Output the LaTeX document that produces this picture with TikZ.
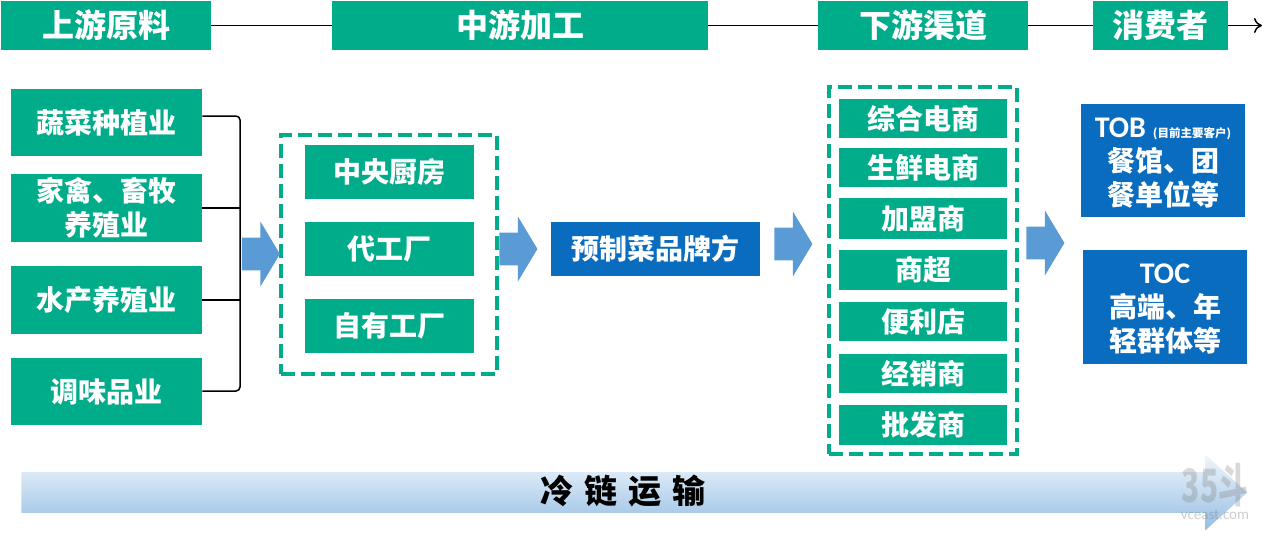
\documentclass[tikz,border=0pt]{standalone}
\usepackage{fontspec}
\setmainfont{Noto Sans CJK SC}
\newfontfamily\latinfont{Carlito}[BoldFont={Carlito Bold}]
\newfontfamily\latinbold{Carlito Bold}
\usetikzlibrary{shapes.arrows}
\usetikzlibrary{arrows.meta}
\definecolor{chaingreen}{RGB}{0,172,138}
\definecolor{chainblue}{RGB}{10,108,190}
\definecolor{arrowblue}{RGB}{91,155,213}
\newcommand{\zh}[2]{\fontsize{#1}{#2}\selectfont\bfseries}
\newcommand{\latintitle}[1]{\rule{0pt}{24pt}{\latinbold\fontsize{30}{28}\selectfont #1}}
\begin{document}
\begin{tikzpicture}
		[x=1pt, y=-1pt, thick,
		box/.style = {inner sep=0pt, text=white, align=center, font=\zh{28}{34}},
		greenbox/.style = {box, fill=chaingreen},
		bluebox/.style = {box, fill=chainblue},
		headbox/.style = {greenbox, minimum height=49pt, font=\zh{32}{36}},
		dashbox/.style = {draw=chaingreen, dashed, dash pattern=on 14pt off 6pt, line width=4pt, inner sep=0pt},
		step arrow/.style = {shape=single arrow, fill=arrowblue, inner xsep=0pt, inner ysep=16pt, minimum height=38pt, minimum width=64pt,
			single arrow head extend=16pt, single arrow tip angle=118},
		link/.style = {draw=black, line width=1.5pt}]
	\useasboundingbox (0,0) rectangle (1262,533);
	% top row
	\node[headbox, minimum width=210pt] (upstream) at (106,25.5) {上游原料};
	\node[headbox, minimum width=376pt] (midstream) at (520,25.5) {中游加工};
	\node[headbox, minimum width=210pt] (downstream) at (923,25.5) {下游渠道};
	\node[headbox, minimum width=135pt] (consumer) at (1160.5,25.5) {消费者};
	\coordinate (end) at (1262,25.5);
	\draw[link] (upstream) -- (midstream);
	\draw[link] (midstream) -- (downstream);
	\draw[link] (downstream) -- (consumer);
	\draw[link, -{To[length=8pt,width=15pt]}] (consumer) -- (end);
	% raw materials
	\node[greenbox, minimum width=191pt, minimum height=67pt] (veg) at (106.5,122.5) {蔬菜种植业};
	\node[greenbox, minimum width=191pt, minimum height=68pt] (poultry) at (106.5,208) {家禽、畜牧\\养殖业};
	\node[greenbox, minimum width=191pt, minimum height=68pt] (aqua) at (106.5,300) {水产养殖业};
	\node[greenbox, minimum width=191pt, minimum height=67pt] (sauce) at (106.5,391.5) {调味品业};
	\coordinate (bracket top) at (240,116);
	\coordinate (bracket bottom) at (240,391);
	\draw[link, rounded corners=4pt] (veg.east |- bracket top) -- (bracket top) -- (bracket bottom) -- (sauce.east |- bracket bottom);
	\draw[link] (poultry.east) -- (poultry.east -| bracket top);
	\draw[link] (aqua.east) -- (aqua.east -| bracket top);
	% processing
	\node[dashbox, minimum width=216pt, minimum height=239pt] (factories) at (388.5,254) {};
	\node[greenbox, minimum width=169pt, minimum height=54pt] (kitchen) at (389.5,172) {中央厨房};
	\node[greenbox, minimum width=169pt, minimum height=54pt] (oem) at (389.5,249) {代工厂};
	\node[greenbox, minimum width=169pt, minimum height=54pt] (own) at (389.5,326) {自有工厂};
	\node[bluebox, minimum width=209pt, minimum height=54pt] (brand) at (655.5,249) {预制菜品牌方};
	% channels
	\node[dashbox, minimum width=188pt, minimum height=367pt] (channels) at (922.5,270.5) {};
	\node[greenbox, minimum width=168pt, minimum height=39pt] (ecom) at (923,118.5) {综合电商};
	\node[greenbox, minimum width=168pt, minimum height=39pt] (fresh) at (923,167.5) {生鲜电商};
	\node[greenbox, minimum width=168pt, minimum height=41pt] (franchise) at (923,218.5) {加盟商};
	\node[greenbox, minimum width=168pt, minimum height=40pt] (market) at (923,270) {商超};
	\node[greenbox, minimum width=168pt, minimum height=39pt] (store) at (923,321.5) {便利店};
	\node[greenbox, minimum width=168pt, minimum height=39pt] (dealer) at (923,373.5) {经销商};
	\node[greenbox, minimum width=168pt, minimum height=40pt] (wholesale) at (923,425) {批发商};
	% customers
	\node[bluebox, minimum width=164pt, minimum height=113pt] (tob) at (1163,160.5) {\latintitle{TOB}\hspace{7pt}{\fontsize{11.5}{28}\selectfont (目前主要客户)}\\餐馆、团\\餐单位等};
	\node[bluebox, minimum width=164pt, minimum height=114pt] (toc) at (1165,307) {\latintitle{TOC}\\高端、年\\轻群体等};
	% arrows
	\node[step arrow] (step1) at (256,254) {};
	\node[step arrow] (step2) at (513.5,249) {};
	\node[step arrow] (step3) at (788.5,244) {};
	\node[step arrow] (step4) at (1040.5,243) {};
	% cold chain
	\node[shape=single arrow, top color=chainblue!6, bottom color=arrowblue!65, draw=none, inner xsep=0pt, inner ysep=20pt, minimum height=1226pt, minimum width=75pt,
		single arrow head extend=17.5pt, single arrow tip angle=84] (cold) at (623,492.5) {};
	\node[font=\zh{33}{36}] (coldtext) at (623,491.5) {冷\hspace{11pt}链\hspace{11pt}运\hspace{11pt}输};
	% watermark
	\node[text=gray, opacity=0.3, inner sep=0pt, xscale=0.65, font=\zh{46}{48}] (mark) at (1215,485) {35斗};
	\node[text=gray, opacity=0.4, inner sep=0pt, font=\latinfont\fontsize{15}{16}\selectfont] (site) at (1215,515) {vceast.com};
\end{tikzpicture}
\end{document}
